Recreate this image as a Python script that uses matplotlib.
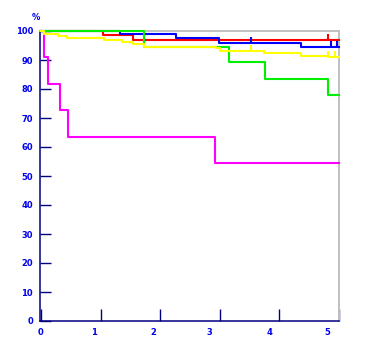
import matplotlib
matplotlib.use("Agg")
import matplotlib.pyplot as plt

# survival curves (time in years, survival in %)
magenta_t = [0, 0.055, 0.12, 0.31, 0.45, 2.92, 5.0]
magenta_s = [100, 90.9, 81.8, 72.7, 63.6, 54.5, 54.5]

red_t = [0, 1.04, 1.54, 5.0]
red_s = [100, 98.6, 97.0, 97.0]

blue_t = [0, 1.33, 2.27, 2.99, 4.36, 5.0]
blue_s = [100, 99.1, 97.5, 96.0, 94.4, 94.4]

green_t = [0, 1.73, 3.16, 3.75, 4.81, 5.0]
green_s = [100, 94.6, 89.2, 83.4, 77.9, 77.9]

yellow_t = [0, 0.04, 0.29, 0.43, 1.05, 1.35, 1.54, 1.73, 2.93, 3.0, 3.74, 4.36, 4.81, 5.0]
yellow_s = [100, 99.0, 98.3, 97.6, 96.9, 96.2, 95.5, 94.6, 94.0, 93.2, 92.3, 91.5, 90.9, 90.9]

# censored observations
red_cens_t = [4.81]
red_cens_s = [97.0]
blue_cens_t = [3.52, 4.87, 4.96]
blue_cens_s = [96.0, 94.4, 94.4]
yellow_cens_t = [3.52, 4.82, 4.94]
yellow_cens_s = [93.2, 90.9, 90.9]

y_ticks = [0, 10, 20, 30, 40, 50, 60, 70, 80, 90, 100]
x_ticks = [0, 1, 2, 3, 4, 5]
x_labels = ["0", "1", "2", "3", "4", "5"]
# the original software prints x labels slightly left of the tick marks
x_label_pos = [-0.02, 0.89, 1.89, 2.82, 3.83, 4.81]

NAVY = "#000080"
BLUE = "#0000ee"
LW = 1.5
CENS_H = 2.1

fig = plt.figure(figsize=(3.65, 3.54), dpi=100)
ax = fig.add_axes([40 / 365, 33 / 354, 299 / 365, 290 / 354])

series = [
    (magenta_t, magenta_s, "#ff00ff"),
    (red_t, red_s, "#ff0000"),
    (blue_t, blue_s, "#0000ff"),
    (green_t, green_s, "#00ee00"),
    (yellow_t, yellow_s, "#ffff00"),
]
for i, (t, s, c) in enumerate(series):
    ax.step(t, s, where="post", color=c, lw=LW, zorder=3 + i, clip_on=False)

for t, s, c, z in [(red_cens_t, red_cens_s, "#ff0000", 4),
                   (blue_cens_t, blue_cens_s, "#0000ff", 5),
                   (yellow_cens_t, yellow_cens_s, "#ffff00", 7)]:
    ax.vlines(t, s, [v + CENS_H for v in s], color=c, lw=LW, zorder=z)

ax.set_xlim(0, 5)
ax.set_ylim(0, 100)

for side in ["left", "bottom"]:
    ax.spines[side].set_color(NAVY)
    ax.spines[side].set_linewidth(1.1)
for side in ["top", "right"]:
    ax.spines[side].set_color("#c0c0c0")
    ax.spines[side].set_linewidth(1.4)

ax.set_yticks(y_ticks)
ax.set_yticklabels([str(v) for v in y_ticks])
ax.tick_params(axis="y", direction="in", length=7.9, width=1.0, color=NAVY,
               pad=5, labelsize=6, labelcolor=BLUE)

ax.set_xticks(x_ticks)
ax.set_xticklabels([""] * len(x_ticks))
ax.tick_params(axis="x", which="major", direction="in", length=8.6, width=1.0,
               color=NAVY)
ax.set_xticks(x_label_pos, minor=True)
ax.set_xticklabels(x_labels, minor=True)
ax.tick_params(axis="x", which="minor", length=0, pad=5, labelsize=6,
               labelcolor=BLUE)

for lab in ax.get_yticklabels() + ax.get_xticklabels(minor=True):
    lab.set_fontweight("bold")

ax.text(-0.014, 1.047, "%", transform=ax.transAxes, ha="center", va="center",
        fontsize=6, fontweight="bold", color=BLUE)

fig.savefig("out.png", dpi=100)
